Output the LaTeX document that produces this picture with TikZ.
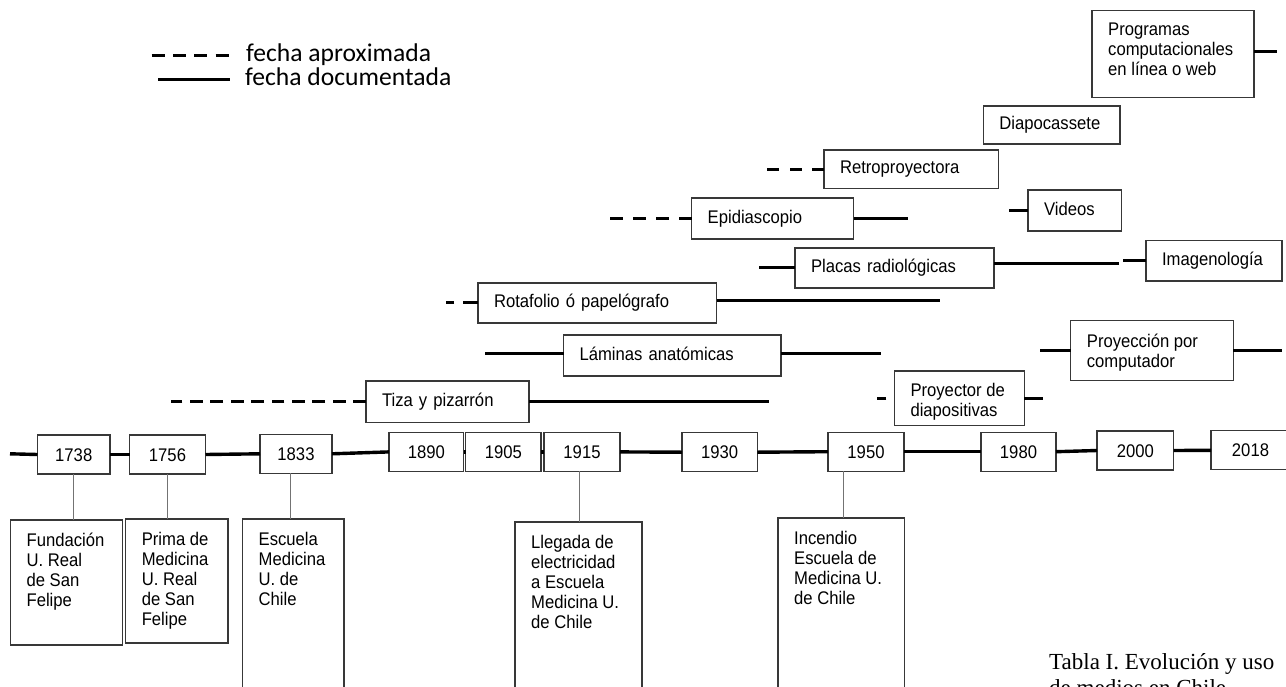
\documentclass[tikz,border=0pt]{standalone}
\usepackage{fontspec}
\setmainfont{Liberation Sans}[FakeStretch=0.91]
\newfontfamily\legfont{Carlito}
\newfontfamily\capfont{Liberation Serif}
\tikzset{
  box/.style={draw=black!78, line width=1.2pt, fill=white, inner sep=0pt, outer sep=0pt},
  lbl/.style={font=\fontsize{18.3}{20}\selectfont},
  yr/.style={box, lbl, minimum height=39pt, text height=13pt, text depth=0pt},
  thk/.style={line width=3pt, black},
  dsh/.style={line width=3pt, black},
  tln/.style={line width=3.4pt, black},
  tickln/.style={line width=0.9pt, black!55},
  legt/.style={font=\legfont\fontsize{25.6}{30}\selectfont, inner sep=0pt, anchor=base west},
}
% single-line box: name x1 y1 x2 y2 text
\newcommand{\onebox}[6]{%
  \pgfmathsetmacro\myW{#4-#2}\pgfmathsetmacro\myH{#5-#3}\pgfmathsetmacro\myT{#4-#2-32}%
  \node[box, lbl, anchor=north west, minimum width=\myW pt, minimum height=\myH pt,
        text width=\myT pt, inner xsep=16pt, align=left, text height=13pt, text depth=3.8pt]
        (#1) at (#2,#3) {#6};}
% multi-line box: name x1 y1 x2 y2 dy text
\newcommand{\mlbox}[7]{%
  \pgfmathsetmacro\myW{#4-#2}\pgfmathsetmacro\myH{#5-#3}%
  \node[box, anchor=north west, minimum width=\myW pt, minimum height=\myH pt] (#1) at (#2,#3) {};
  \node[lbl, anchor=base west, inner sep=0pt] (#1t) at ({#2+16},{#3+#6})
        {\parbox[t]{200pt}{\raggedright #7}};}
\begin{document}
\begin{tikzpicture}[x=1pt, y=-1pt]
\useasboundingbox (0,0) rectangle (1286,686);
\fill[white] (0,0) rectangle (1286,686);

% legend
\coordinate (lg1a) at (151.7,55);
\coordinate (lg1b) at (228.6,55);
\coordinate (lg2a) at (158,79.3);
\coordinate (lg2b) at (230,79.3);
\draw[dsh, dash pattern=on 13pt off 8.3pt] (lg1a) -- (lg1b);
\draw[thk] (lg2a) -- (lg2b);
\node[legt] (lgt1) at (246,61) {fecha aproximada};
\node[legt] (lgt2) at (245,85.5) {fecha documentada};

% year boxes
\node[yr, minimum width=72.5pt] (y1738) at (73.75,454.5) {1738};
\node[yr, minimum width=76pt]   (y1756) at (167.5,454.5) {1756};
\node[yr, minimum width=72pt]   (y1833) at (296,453.8) {1833};
\node[yr, minimum width=74.5pt] (y1890) at (426.3,451.9) {1890};
\node[yr, minimum width=75.4pt] (y1905) at (503.3,451.9) {1905};
\node[yr, minimum width=76pt]   (y1915) at (582,451.9) {1915};
\node[yr, minimum width=75.4pt] (y1930) at (719.7,452.2) {1930};
\node[yr, minimum width=76pt]   (y1950) at (866,451.7) {1950};
\node[yr, minimum width=75pt]   (y1980) at (1018.5,451.7) {1980};
\node[yr, minimum width=76.6pt] (y2000) at (1135.3,450.5) {2000};
\node[yr, minimum width=79pt]   (y2018) at (1250.5,450.3) {2018};

% timeline
\coordinate (tl0) at (10,453.8);
\draw[tln] (tl0) -- (y1738.west);
\draw[tln] (y1738.east) -- (y1756.west);
\draw[tln] (y1756.east) -- (y1833.west);
\draw[tln] (y1833.east) -- (y1890.west);
\draw[tln] (y1890.east) -- (y1905.west);
\draw[tln] (y1905.east) -- (y1915.west);
\draw[tln] (y1915.east) -- (y1930.west);
\draw[tln] (y1930.east) -- (y1950.west);
\draw[tln] (y1950.east) -- (y1980.west);
\draw[tln] (y1980.east) -- (y2000.west);
\draw[tln] (y2000.east) -- (y2018.west);

% event boxes
\mlbox{e1}{10.4}{520}{122.3}{645}{26}{Fundación\\U. Real\\de San\\Felipe}
\mlbox{e2}{125.6}{519}{228}{643}{26}{Prima de\\Medicina\\U. Real\\de San\\Felipe}
\mlbox{e3}{242.5}{519}{344}{700}{26}{Escuela\\Medicina\\U. de\\Chile}
\mlbox{e4}{515}{522}{642}{700}{26}{Llegada de\\electricidad\\a Escuela\\Medicina U.\\de Chile}
\mlbox{e5}{778}{518}{904.5}{700}{26}{Incendio\\Escuela de\\Medicina U.\\de Chile}

% ticks
\coordinate (k1) at (y1738.south);
\coordinate (k2) at (y1756.south);
\coordinate (k3) at ([xshift=-6pt]y1833.south);
\coordinate (k4) at ([xshift=-3pt]y1915.south);
\coordinate (k5) at ([xshift=-23pt]y1950.south);
\draw[tickln] (k1) -- (k1 |- e1.north);
\draw[tickln] (k2) -- (k2 |- e2.north);
\draw[tickln] (k3) -- (k3 |- e3.north);
\draw[tickln] (k4) -- (k4 |- e4.north);
\draw[tickln] (k5) -- (k5 |- e5.north);

% media boxes
\onebox{tiza}{366}{381}{529}{422.7}{Tiza y pizarrón}
\coordinate (tizaL) at (170.6,0);
\coordinate (tizaR) at (769,0);
\draw[dsh, dash pattern=on 12.8pt off 7.6pt] (tiza.west) -- (tiza.west -| tizaL);
\draw[thk] (tiza.east) -- (tiza.east -| tizaR);

\onebox{lam}{563.5}{335}{781}{376}{Láminas anatómicas}
\coordinate (lamW) at ([yshift=2pt]lam.west);
\coordinate (lamE) at ([yshift=2pt]lam.east);
\coordinate (lamL) at (485,0);
\coordinate (lamR) at (881,0);
\draw[thk] (lamW) -- (lamW -| lamL);
\draw[thk] (lamE) -- (lamE -| lamR);

\onebox{rota}{478}{283}{716.5}{323}{Rotafolio ó papelógrafo}
\coordinate (rotW) at ([yshift=1pt]rota.west);
\coordinate (rotE) at ([yshift=3pt]rota.east);
\coordinate (rotL) at (445,0);
\coordinate (rotR) at (940,0);
\draw[dsh, dash pattern=on 15pt off 9pt on 8pt off 50pt] (rotW) -- (rotW -| rotL);
\draw[thk] (rotE) -- (rotE -| rotR);

\onebox{plac}{795}{248}{994}{288}{Placas radiológicas}
\coordinate (plW) at ([yshift=1pt]plac.west);
\coordinate (plE) at ([yshift=5pt]plac.east);
\coordinate (plL) at (758.7,0);
\coordinate (plR) at (1119,0);
\draw[thk] (plW) -- (plW -| plL);
\draw[thk] (plE) -- (plE -| plR);

\onebox{imag}{1146}{240.7}{1282}{281}{Imagenología}
\coordinate (imL) at (1122.6,0);
\draw[thk] (imag.west) -- (imag.west -| imL);

\onebox{epi}{691.7}{198}{853.7}{239}{Epidiascopio}
\coordinate (epL) at (607,0);
\coordinate (epR) at (907.8,0);
\draw[dsh, dash pattern=on 13pt off 10pt] (epi.west) -- (epi.west -| epL);
\draw[thk] (epi.east) -- (epi.east -| epR);

\onebox{vid}{1028}{190}{1121.6}{231}{Videos}
\coordinate (viL) at (1008.6,0);
\draw[thk] (vid.west) -- (vid.west -| viL);

\onebox{retro}{824}{150}{998.7}{188.3}{Retroproyectora}
\coordinate (reL) at (767,0);
\draw[dsh, dash pattern=on 12pt off 10.5pt] (retro.west) -- (retro.west -| reL);

\onebox{diapo}{983.4}{106}{1120}{144}{Diapocassete}

\mlbox{prog}{1092}{10.7}{1254}{97.3}{25}{Programas\\computacionales\\en línea o web}
\coordinate (prE) at ([yshift=2.5pt]prog.east);
\coordinate (prR) at (1277,0);
\draw[thk] (prE) -- (prE -| prR);

\mlbox{pcomp}{1070.7}{320.7}{1233.3}{380.7}{27}{Proyección por\\computador}
\coordinate (pcL) at (1040,0);
\coordinate (pcR) at (1281.7,0);
\draw[thk] (pcomp.west) -- (pcomp.west -| pcL);
\draw[thk] (pcomp.east) -- (pcomp.east -| pcR);

\mlbox{pdia}{894.3}{371}{1024.3}{425.7}{25}{Proyector de\\diapositivas}
\coordinate (pdL) at (877,0);
\coordinate (pdR) at (1042.7,0);
\draw[thk, dash pattern=on 0pt off 8pt on 9pt off 50pt] (pdia.west) -- (pdia.west -| pdL);
\draw[thk] (pdia.east) -- (pdia.east -| pdR);

% caption (cut by page edge, as in the original)
\node[anchor=base west, inner sep=0pt, font=\capfont\fontsize{23}{26}\selectfont] (cap) at (1049,669)
  {\parbox[t]{300pt}{\raggedright Tabla I. Evolución y uso\\de medios en Chile}};
\end{tikzpicture}
\end{document}
